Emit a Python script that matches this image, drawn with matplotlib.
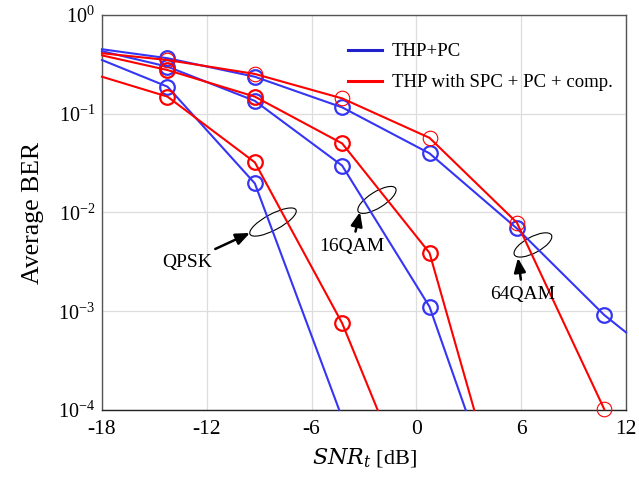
import matplotlib
matplotlib.use('Agg')
import matplotlib.pyplot as plt
from matplotlib.patches import Ellipse
from matplotlib.transforms import ScaledTranslation

plt.rcParams['font.family'] = ['Liberation Serif', 'DejaVu Serif']
plt.rcParams['mathtext.fontset'] = 'dejavuserif'
plt.rcParams['axes.unicode_minus'] = False

# SNR_t points where the markers sit
snr = [-14.25, -9.25, -4.25, 0.75, 5.75, 10.75]
x_left = -18

# THP+PC
qpsk_pc = [0.188, 0.0197]
qam16_pc = [0.30, 0.135, 0.0298, 0.00111]
qam64_pc = [0.365, 0.237, 0.116, 0.0397, 0.0069, 0.000916]
# THP with SPC + PC + comp.
qpsk_spc = [0.149, 0.0322, 0.000755]
qam16_spc = [0.277, 0.149, 0.050, 0.0039]
qam64_spc = [0.35, 0.253, 0.143, 0.057, 0.0079, 0.000102]

# value where each curve enters at the left border, and where it leaves the plot
start_pc = [0.35, 0.43, 0.45]
start_spc = [0.237, 0.39, 0.41]
end_pc = [(-4.42, 1e-4), (2.82, 1e-4), (12, 6.1e-4)]
end_spc = [(-2.22, 1e-4), (3.31, 1e-4), None]

blue = '#3535f5'
red = '#ff0000'

fig = plt.figure(figsize=(6.39, 4.84), dpi=100)
ax = fig.add_axes([0.1596, 0.153, 0.8201, 0.816])


def curve(vals, start, end, color, mew, z):
    xs = [x_left] + snr[:len(vals)]
    ys = [start] + vals
    if end is not None:
        xs.append(end[0])
        ys.append(end[1])
    ax.plot(xs, ys, color=color, lw=1.5, zorder=z, clip_on=False)
    ax.plot(snr[:len(vals)], vals, ls='none', marker='o', ms=10.5,
            mfc='none', mec=color, mew=mew, zorder=z, clip_on=False)


for v, s, e in zip([qpsk_pc, qam16_pc, qam64_pc], start_pc, end_pc):
    curve(v, s, e, blue, 1.6, 3)
for v, s, e, w in zip([qpsk_spc, qam16_spc, qam64_spc], start_spc, end_spc,
                      [1.6, 1.6, 0.8]):
    curve(v, s, e, red, w, 4)

ax.set_yscale('log')
ax.set_xlim(-18, 12)
ax.set_ylim(1e-4, 1)
ax.set_xticks([-18, -12, -6, 0, 6, 12])
ax.set_xticklabels(['-18', '-12', '-6', '0', '6', '12'])
ax.set_yticks([1e-4, 1e-3, 1e-2, 1e-1, 1])
ax.minorticks_off()
ax.tick_params(axis='x', labelsize=15.5, direction='in', length=0, pad=7)
ax.tick_params(axis='y', labelsize=14.5, direction='in', length=0, pad=5)
ax.grid(True, color='#dddddd', lw=0.9)
ax.set_axisbelow(True)
for sp in ax.spines.values():
    sp.set_color('#555555')
    sp.set_linewidth(1.0)
ax.spines['bottom'].set_color('#222222')

ax.set_xlabel(r'$SNR_t$ [dB]', fontsize=16, labelpad=6)
ax.set_ylabel('Average BER', fontsize=18.5, labelpad=10)

# legend handles
ax.plot([], [], color='#2020cc', lw=2.2, label='THP+PC')
ax.plot([], [], color=red, lw=2.2, label='THP with SPC + PC + comp.')
h, l = ax.get_legend_handles_labels()
ax.legend(h[-2:], l[-2:], loc='upper right', frameon=False, fontsize=13.5,
          handlelength=1.8, handletextpad=0.55, labelspacing=0.75,
          bbox_to_anchor=(1.0, 0.962), borderaxespad=0.3)

# ellipses marking the groups, sized in inches around a data point
rings = [(-8.21, 8.0e-3, 0.52, 0.16, 28),
         (-2.26, 0.0134, 0.44, 0.16, 32),
         (6.67, 4.69e-3, 0.42, 0.16, 28)]
for cx, cy, w, hh, ang in rings:
    tr = fig.dpi_scale_trans + ScaledTranslation(cx, cy, ax.transData)
    ax.add_patch(Ellipse((0, 0), w, hh, angle=ang, fill=False, ec='black',
                         lw=0.8, transform=tr, zorder=2))

labels = [('QPSK', (-9.53, 6.2e-3), (-13.13, 3.15e-3)),
          ('16QAM', (-3.23, 0.0101), (-3.69, 4.48e-3)),
          ('64QAM', (5.81, 3.46e-3), (6.10, 1.46e-3))]
for txt, tip, pos in labels:
    ax.annotate(txt, xy=tip, xytext=pos, fontsize=14, ha='center', va='center',
                arrowprops=dict(arrowstyle='-|>,head_length=0.6,head_width=0.25',
                                color='black', lw=1.8, shrinkA=3, shrinkB=0),
                zorder=5)

fig.savefig('out.png', dpi=100)
